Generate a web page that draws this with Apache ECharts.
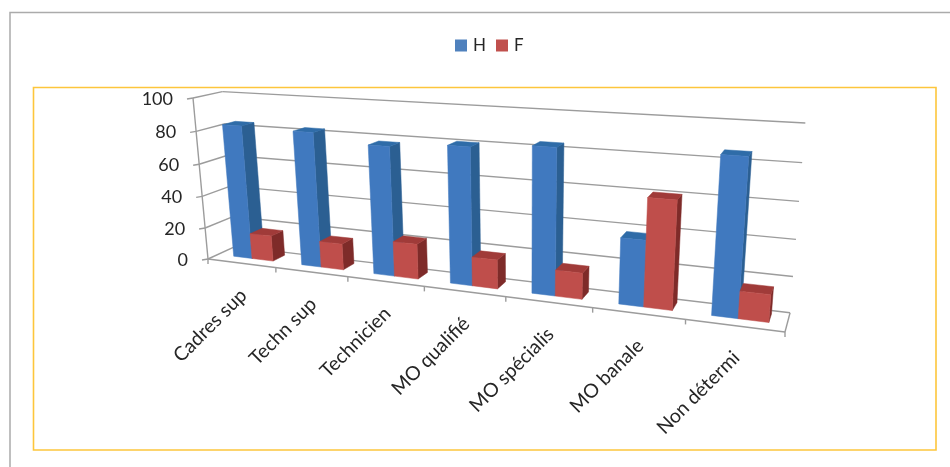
<!DOCTYPE html>
<html>
<head>
<meta charset="utf-8">
<style>html,body{margin:0;padding:0;background:#fff}#chart{width:950px;height:467px}</style>
<script src="https://cdn.jsdelivr.net/npm/echarts@6/dist/echarts.min.js"></script>
</head>
<body>
<div id="chart"></div>
<script>
const categories = ['Cadres sup', 'Techn sup', 'Technicien', 'MO qualifié', 'MO spécialis', 'MO banale', 'Non détermi'];
const valuesH = [83, 82, 77, 80, 83, 37, 85];
const valuesF = [16, 16, 21, 17, 15, 60, 15];
const yTicks = [0, 20, 40, 60, 80, 100];

// Projective camera: screen position of the chart box corners plus the
// perspective strength along each of its three edges.
const CAM = {
  o: [208, 259], u: [785, 332], v: [193, 98], d: [232, 248],
  a: -0.2, b: -0.0455, c: 0.0367
};
function project(u, v, d) {
  const w = 1 + CAM.a * u + CAM.b * v + CAM.c * d;
  const pt = [0, 1].map(k =>
    (CAM.o[k]
      + (CAM.u[k] * (1 + CAM.a) - CAM.o[k]) * u
      + (CAM.v[k] * (1 + CAM.b) - CAM.o[k]) * v
      + (CAM.d[k] * (1 + CAM.c) - CAM.o[k]) * d) / w);
  return pt;
}

const FONT = 'Lato';
const SLOT_H = [-0.265, 0.01]; // left and right of the H bar around the band centre, as a share of a band
const SLOT_F = [0.01, 0.32];   // the same for the F bar
const DEPTH = [0.42, 0.94];    // front and back of the bars inside the box
const WALL_DEPTH = 1.15;       // position of the back wall along the depth edge
const GRID_COLOR = '#9c9c9c';

// Converts grid pixels, obtained from the axes, into box fractions.
function toBox(params, api, cat, value) {
  const cs = params.coordSys;
  const p = api.coord([cat, value]);
  return [(p[0] - cs.x) / cs.width, (cs.y + cs.height - p[1]) / cs.height];
}

function barRenderer(slot, colors) {
  return function (params, api) {
    const cat = api.value(0), val = api.value(1);
    const [uc, vTop] = toBox(params, api, cat, val);
    const band = api.size([1, 0])[0] / params.coordSys.width;
    const u0 = uc + slot[0] * band;
    const u1 = uc + slot[1] * band;
    const [d0, d1] = DEPTH;
    const poly = (pts, fill) => ({
      type: 'polygon',
      shape: { points: pts },
      style: { fill: fill, stroke: fill, lineWidth: 0.5 }
    });
    return {
      type: 'group',
      children: [
        poly([project(u1, 0, d0), project(u1, vTop, d0), project(u1, vTop, d1), project(u1, 0, d1)], colors.side),
        poly([project(u0, vTop, d0), project(u1, vTop, d0), project(u1, vTop, d1), project(u0, vTop, d1)], colors.top),
        poly([project(u0, 0, d0), project(u1, 0, d0), project(u1, vTop, d0), project(u0, vTop, d0)], colors.front)
      ]
    };
  };
}

function seg(a, b, width) {
  return {
    type: 'line',
    shape: { x1: a[0], y1: a[1], x2: b[0], y2: b[1] },
    style: { stroke: GRID_COLOR, lineWidth: width || 1.4 }
  };
}

const option = {
  animation: false,
  backgroundColor: '#fff',
  textStyle: { fontFamily: FONT },
  grid: { left: 208, top: 98, width: 577, height: 161 },
  xAxis: { type: 'category', data: categories, show: false },
  yAxis: { type: 'value', min: 0, max: 100, interval: 20, show: false },
  legend: {
    left: 455, top: 37, padding: 0, itemWidth: 12, itemHeight: 12, itemGap: 10,
    icon: 'rect', data: ['H', 'F'],
    textStyle: { fontFamily: FONT, fontSize: 17, color: '#262626', padding: [0, 0, 0, 1] }
  },
  graphic: [
    { type: 'polyline', silent: true, shape: { points: [[10, 467], [10, 12.5], [950, 12.5]] },
      style: { fill: 'none', stroke: '#ababab', lineWidth: 1.5 } },
    { type: 'rect', silent: true, shape: { x: 33.5, y: 87.5, width: 902.5, height: 362.5 },
      style: { fill: 'none', stroke: '#fdc63c', lineWidth: 1.6 } }
  ],
  series: [
    {
      // Walls, floor, gridlines and value labels, one item per value tick
      type: 'custom', name: 'walls', silent: true,
      data: yTicks.map(t => [0, t]),
      encode: { x: 0, y: 1 },
      renderItem(params, api) {
        const val = api.value(1);
        const v = toBox(params, api, 0, val)[1];
        const front = project(0, v, 0), back = project(0, v, WALL_DEPTH), right = project(1, v, WALL_DEPTH);
        const kids = [
          seg(front, back), seg(back, right),
          seg([front[0] - 6, front[1] + 1], front),
          {
            type: 'text',
            x: front[0] - 20, y: front[1] + 1,
            style: { text: String(val), align: 'right', verticalAlign: 'middle',
                     fontFamily: FONT, fontSize: 18, fill: '#262626' }
          }
        ];
        if (val === 0) {
          kids.push(seg(project(0, 0, 0), project(1, 0, 0)));
          kids.push(seg(project(1, 0, 0), project(1, 0, WALL_DEPTH)));
          kids.push(seg(project(0, 0, 0), project(0, 1, 0)));
        }
        return { type: 'group', children: kids };
      }
    },
    {
      // Category ticks and slanted category labels
      type: 'custom', name: 'categories', silent: true,
      data: categories.map((c, i) => [i, 0]),
      encode: { x: 0, y: 1 },
      renderItem(params, api) {
        const i = api.value(0);
        const uc = toBox(params, api, i, 0)[0];
        const band = api.size([1, 0])[0] / params.coordSys.width;
        const tickL = project(uc - band / 2, 0, 0), tickR = project(uc + band / 2, 0, 0);
        const c = project(uc, 0, 0);
        const kids = [seg(tickR, [tickR[0], tickR[1] + 5])];
        if (i === 0) kids.push(seg(tickL, [tickL[0], tickL[1] + 5]));
        kids.push({
          type: 'text',
          x: c[0] + 2, y: c[1] + 29,
          rotation: Math.PI / 4,
          style: { text: categories[i], align: 'right', verticalAlign: 'middle',
                   fontFamily: FONT, fontSize: 19.5, fill: '#262626' }
        });
        return { type: 'group', children: kids };
      }
    },
    {
      type: 'custom', name: 'H',
      itemStyle: { color: '#4f81bd' },
      data: valuesH.map((v, i) => [i, v]),
      encode: { x: 0, y: 1 },
      renderItem: barRenderer(SLOT_H, { front: '#4079bf', side: '#2b5f92', top: '#2f6ca8' })
    },
    {
      type: 'custom', name: 'F',
      itemStyle: { color: '#c0504d' },
      data: valuesF.map((v, i) => [i, v]),
      encode: { x: 0, y: 1 },
      renderItem: barRenderer(SLOT_F, { front: '#bf4e4b', side: '#7e2b29', top: '#a03b39' })
    }
  ]
};

const chart = echarts.init(document.getElementById('chart'), null, { renderer: 'canvas' });
chart.setOption(option);
</script>
</body>
</html>
